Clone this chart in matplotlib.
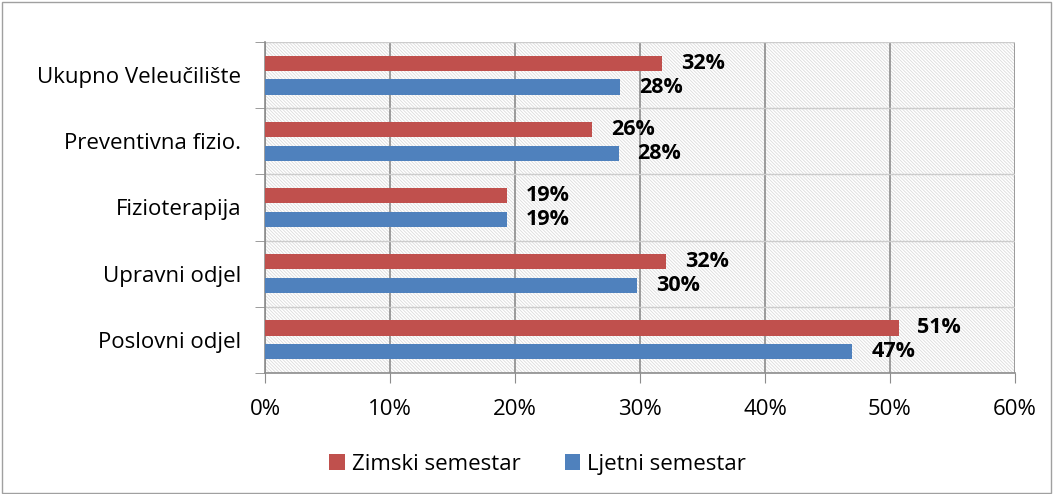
import numpy as np
import matplotlib.pyplot as plt
from matplotlib.patches import Rectangle

categories = ['Poslovni odjel', 'Upravni odjel', 'Fizioterapija',
              'Preventivna fizio.', 'Ukupno Veleučilište']
zimski = [50.7, 32.1, 19.4, 26.2, 31.8]
ljetni = [47.0, 29.8, 19.4, 28.3, 28.4]
zimski_lbl = ['51%', '32%', '19%', '26%', '32%']
ljetni_lbl = ['47%', '30%', '19%', '28%', '28%']

red = '#c0504d'
blue = '#4f81bd'

plt.rcParams['font.family'] = ['Open Sans', 'DejaVu Sans']
plt.rcParams['hatch.color'] = '#dcdcdc'
plt.rcParams['hatch.linewidth'] = 0.6

fig = plt.figure(figsize=(10.54, 4.94), dpi=100)
fig.patches.append(Rectangle((0.002, 0.003), 0.995, 0.993, transform=fig.transFigure,
                             fill=False, edgecolor='#a0a0a0', lw=1))
ax = fig.add_axes([0.2514, 0.245, 0.7116, 0.67])

y = np.arange(len(categories))
h = 0.23
off = 0.18

# hatched plot area
ax.add_patch(Rectangle((0, 0), 1, 1, transform=ax.transAxes, facecolor='white',
                       hatch='\\' * 10, edgecolor='#dcdcdc', lw=0, zorder=0))

ax.barh(y + off, zimski, height=h, color=red, label='Zimski semestar', zorder=3)
ax.barh(y - off, ljetni, height=h, color=blue, label='Ljetni semestar', zorder=3)

for i in range(len(categories)):
    ax.text(zimski[i] + 1.5, y[i] + off, zimski_lbl[i], va='center', ha='left',
            fontsize=15.5, fontweight='bold', zorder=4)
    ax.text(ljetni[i] + 1.5, y[i] - off, ljetni_lbl[i], va='center', ha='left',
            fontsize=15.5, fontweight='bold', zorder=4)

ax.set_xlim(0, 60)
ax.set_ylim(-0.5, len(categories) - 0.5)
ax.set_xticks(np.arange(0, 61, 10))
ax.set_xticklabels([f'{v}%' for v in range(0, 61, 10)], fontsize=16)
ax.set_yticks(y)
ax.set_yticklabels(categories, fontsize=16)
ax.set_yticks(np.arange(-0.5, len(categories)), minor=True)
ax.tick_params(axis='y', which='major', length=0, pad=17)
ax.tick_params(axis='y', which='minor', length=7, color='#8c8c8c')
ax.tick_params(axis='x', length=7, color='#8c8c8c', pad=12)

ax.grid(axis='x', color='#8c8c8c', lw=1.2, zorder=1)
ax.grid(axis='y', which='minor', color='#cccccc', lw=1, zorder=1)
for s in ['top', 'right']:
    ax.spines[s].set_visible(False)
for s in ['left', 'bottom']:
    ax.spines[s].set_color('#8c8c8c')
    ax.spines[s].set_linewidth(1.2)
ax.set_axisbelow(True)

fig.legend(loc='center', bbox_to_anchor=(0.51, 0.06), ncol=2, frameon=False,
           fontsize=16, handlelength=0.7, handleheight=0.7, columnspacing=2.0,
           handletextpad=0.3)

fig.savefig('out.png', dpi=100)
